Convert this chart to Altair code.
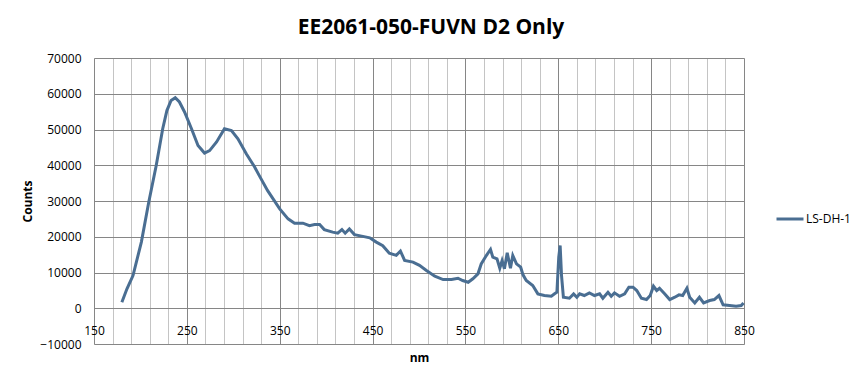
import altair as alt
import pandas as pd

title_text = "EE2061-050-FUVN D2 Only"
series_name = "LS-DH-1"
x_title = "nm"
y_title = "Counts"

wavelength = [180, 185.5, 192, 201, 209, 217, 224, 228.5, 233, 237.5, 242, 247.5, 255, 262, 269,
              274.5, 282, 290.5, 298, 305, 314, 323, 328, 337, 350, 359, 366, 375, 382, 387.5,
              393, 398, 407, 412.5, 417, 420.5, 425, 430.5, 439.5, 447, 454, 461, 468, 475.5,
              480, 484.5, 493.5, 500.5, 508, 517, 526, 535, 542, 547, 553, 558, 563.5, 567,
              572.5, 577, 579.5, 584, 587, 589.5, 592, 595, 598.5, 601, 605, 609.5, 612, 615.5,
              622.5, 628, 635, 642.5, 646, 648.5, 650.5, 652, 653.5, 655.5, 662, 666.5, 670,
              673, 678, 683.5, 689, 694.5, 698, 703.5, 707, 710.5, 716, 721.5, 726, 730.5,
              734.5, 739.5, 745, 749, 752.5, 756, 759, 764.5, 770, 775.5, 780, 784, 788.5,
              791.5, 797, 802, 806.5, 813, 818, 823, 827.5, 834.5, 841.5, 847, 849.5]
counts = [1700, 5430, 9150, 18500, 29700, 39950, 50200, 55300, 58100, 58900, 57700, 54900, 50200,
          45500, 43400, 44100, 46500, 50200, 49700, 47400, 43200, 39500, 37100, 32900, 27800,
          25000, 23800, 23800, 23100, 23400, 23400, 22000, 21300, 21000, 22000, 21000, 22200,
          20600, 20100, 19700, 18500, 17500, 15400, 14800, 16000, 13400, 12900, 12000, 10550,
          8960, 8030, 8030, 8400, 7750, 7280, 8230, 9630, 12400, 14750, 16430, 14280, 13830,
          11200, 13350, 11030, 15500, 11200, 14750, 12430, 11480, 9350, 7750, 6350, 4030, 3560,
          3360, 4030, 4480, 14280, 17550, 9150, 3080, 2800, 4030, 3080, 4030, 3560, 4310, 3560,
          4030, 2800, 4480, 3360, 4310, 3360, 4030, 5880, 5880, 4960, 2800, 2430, 3560, 6160,
          4960, 5600, 4030, 2430, 3080, 3750, 3560, 5600, 3080, 1500, 3080, 1500, 2160, 2430,
          3560, 950, 760, 560, 760, 1500]

x_ticks = list(range(150, 851, 20))
y_ticks = list(range(-10000, 70001, 10000))

df = pd.DataFrame({"nm": wavelength, "Counts": counts, "series": [series_name] * len(wavelength)})

FONT = "Open Sans"
GRID_MAJOR = "#868686"
GRID_MINOR = "#c4c4c4"
LINE_COLOR = "#4a6e92"

chart = alt.Chart(df).mark_line(strokeWidth=3, color=LINE_COLOR).encode(
    x=alt.X("nm:Q",
            scale=alt.Scale(domain=[150, 850], nice=False, zero=False),
            axis=alt.Axis(values=x_ticks, title=x_title,
                          labelExpr="datum.value % 100 == 50 ? datum.label : ''",
                          format="d",
                          grid=True,
                          gridColor={"condition": {"test": "datum.value % 100 == 50", "value": GRID_MAJOR},
                                     "value": GRID_MINOR},
                          gridWidth=1,
                          ticks=False, domain=False,
                          labelBaseline="middle", labelPadding=-14,
                          labelFont=FONT, labelFontSize=12, labelColor="#000000",
                          labelFlush=False, labelOverlap=False,
                          titleFont=FONT, titleFontSize=12, titleFontWeight="bold", titleColor="#000000",
                          titleY=13, titleBaseline="middle")),
    y=alt.Y("Counts:Q",
            scale=alt.Scale(domain=[-10000, 70000], nice=False),
            axis=alt.Axis(values=y_ticks, title=y_title, format="d",
                          grid=True, gridColor=GRID_MAJOR, gridWidth=1,
                          ticks=False, domain=False, labelPadding=13,
                          labelFont=FONT, labelFontSize=12, labelColor="#000000",
                          labelFlush=False, labelOverlap=False,
                          titleFont=FONT, titleFontSize=12, titleFontWeight="bold", titleColor="#000000",
                          titleX=-67, titleBaseline="middle", titleAngle=-90)),
    color=alt.Color("series:N",
                    scale=alt.Scale(range=[LINE_COLOR]),
                    legend=alt.Legend(title=None, orient="none", legendX=681, legendY=146,
                                      symbolType="stroke", symbolSize=729, symbolStrokeWidth=3,
                                      labelFont=FONT, labelFontSize=12, labelColor="#000000",
                                      labelOffset=1)),
).properties(
    width=650,
    height=286,
    autosize=alt.AutoSizeParams(type="none"),
    padding={"left": 86, "top": 50, "right": 111, "bottom": 29},
    title=alt.TitleParams(title_text, font=FONT, fontSize=21, fontWeight="bold", color="#000000",
                          anchor="middle", dx=12, dy=27, offset=24, baseline="alphabetic"),
).configure_view(stroke=GRID_MAJOR, strokeWidth=1).configure(background="#ffffff")

chart.save("out.html", embed_options={"renderer": "svg", "actions": False})
